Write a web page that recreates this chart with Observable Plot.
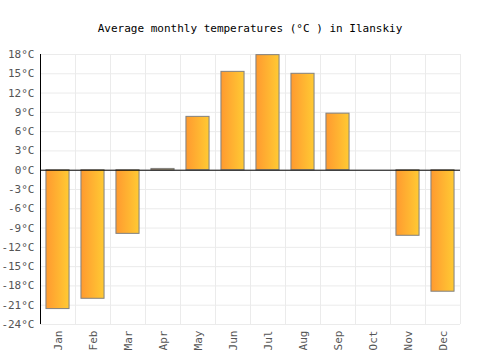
<!DOCTYPE html>
<html><head><meta charset="utf-8">
<script src="https://cdn.jsdelivr.net/npm/d3@7"></script>
<script src="https://cdn.jsdelivr.net/npm/@observablehq/plot@0.6"></script>
<style>
body{margin:0;background:#fff;}
#title{height:40px;box-sizing:border-box;padding-top:21px;font:11px "DejaVu Sans Mono",monospace;line-height:16px;text-align:center;color:#000;width:500px;}
</style></head><body>
<div id="title">Average monthly temperatures (°C ) in Ilanskiy</div>
<div id="chart"></div>
<script>
const months = ["Jan","Feb","Mar","Apr","May","Jun","Jul","Aug","Sep","Oct","Nov","Dec"];
const temps = [-21.6, -20.0, -9.9, 0.2, 8.3, 15.3, 17.9, 15.0, 8.8, 0, -10.2, -18.9];
const yTicks = [-24,-21,-18,-15,-12,-9,-6,-3,0,3,6,9,12,15,18];

const data = months.map((m, i) => ({m, i, t: temps[i]}));
const bounds = d3.range(months.length + 1);
const barPad = 0.17;

const defs = () => {
  const d = d3.create("svg:defs");
  const g = d.append("linearGradient").attr("id", "barGrad").attr("x1", 0).attr("x2", 1).attr("y1", 0).attr("y2", 0);
  g.append("stop").attr("offset", "0%").attr("stop-color", "#ff9a30");
  g.append("stop").attr("offset", "100%").attr("stop-color", "#ffca33");
  return d.node();
};

const chart = Plot.plot({
  width: 500,
  height: 310,
  marginLeft: 40,
  marginRight: 40,
  marginTop: 14,
  marginBottom: 26,
  style: {fontFamily: '"DejaVu Sans Mono", monospace', fontSize: "11px", background: "#fff"},
  x: {domain: [0, months.length], axis: null},
  y: {domain: [-24, 18], axis: null},
  marks: [
    defs,
    Plot.ruleX(bounds, {x: d => d, stroke: "#ebebeb", strokeWidth: 1}),
    Plot.ruleY(yTicks, {y: d => d, stroke: "#ebebeb", strokeWidth: 1}),
    Plot.rectY(data, {x1: d => d.i + barPad, x2: d => d.i + 1 - barPad, y1: 0, y2: "t", fill: "url(#barGrad)", stroke: "#808080", strokeWidth: 1}),
    Plot.ruleY([0], {stroke: "#000", strokeWidth: 1}),
    Plot.ruleX([0], {stroke: "#000", strokeWidth: 1}),
    Plot.axisY(yTicks, {label: null, tickSize: 0, tickPadding: 6, tickFormat: d => d + "°C", fill: "#555", fontSize: 11}),
    Plot.axisX(data.map(d => d.i + 0.5), {label: null, tickSize: 0, tickPadding: 6, tickRotate: -90, tickFormat: d => months[Math.floor(d)], fill: "#555", fontSize: 11})
  ]
});
document.getElementById("chart").appendChild(chart);
</script>
</body></html>
